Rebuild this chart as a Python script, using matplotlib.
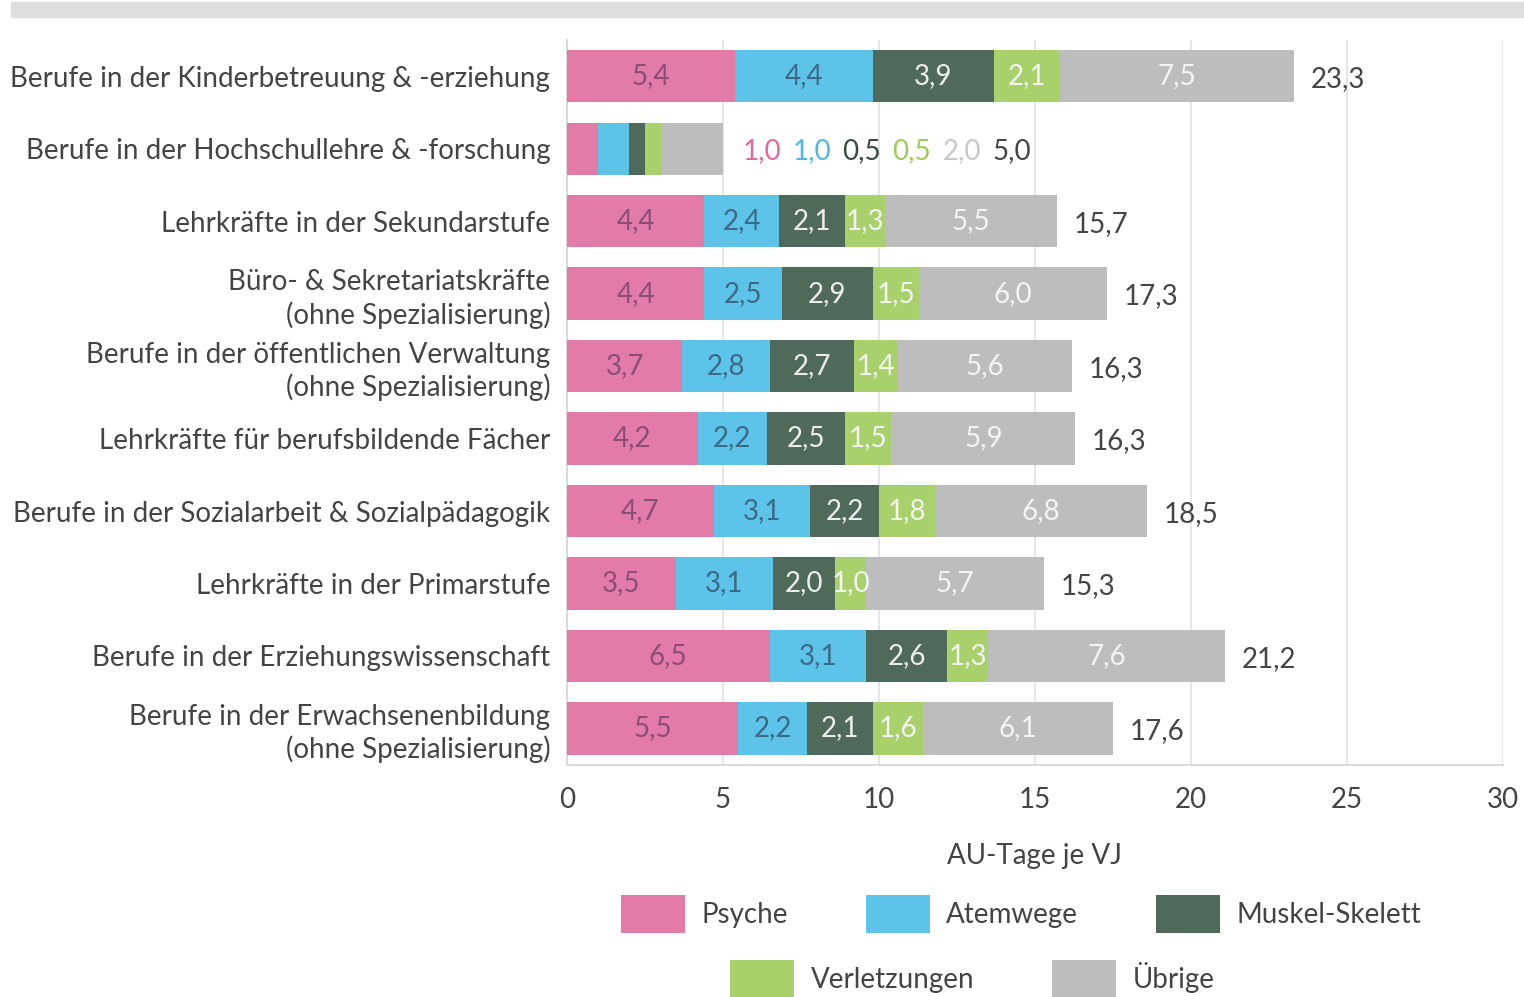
import matplotlib
matplotlib.use("Agg")
import matplotlib.pyplot as plt
from matplotlib.patches import Rectangle

plt.rcParams["font.family"] = ["Lato", "DejaVu Sans"]

# data
berufe = [
    "Berufe in der Kinderbetreuung & -erziehung",
    "Berufe in der Hochschullehre & -forschung",
    "Lehrkräfte in der Sekundarstufe",
    "Büro- & Sekretariatskräfte\n(ohne Spezialisierung)",
    "Berufe in der öffentlichen Verwaltung\n(ohne Spezialisierung)",
    "Lehrkräfte für berufsbildende Fächer",
    "Berufe in der Sozialarbeit & Sozialpädagogik",
    "Lehrkräfte in der Primarstufe",
    "Berufe in der Erziehungswissenschaft",
    "Berufe in der Erwachsenenbildung\n(ohne Spezialisierung)",
]
psyche = [5.4, 1.0, 4.4, 4.4, 3.7, 4.2, 4.7, 3.5, 6.5, 5.5]
atemwege = [4.4, 1.0, 2.4, 2.5, 2.8, 2.2, 3.1, 3.1, 3.1, 2.2]
muskel = [3.9, 0.5, 2.1, 2.9, 2.7, 2.5, 2.2, 2.0, 2.6, 2.1]
verletzungen = [2.1, 0.5, 1.3, 1.5, 1.4, 1.5, 1.8, 1.0, 1.3, 1.6]
uebrige = [7.5, 2.0, 5.5, 6.0, 5.6, 5.9, 6.8, 5.7, 7.6, 6.1]
gesamt = [23.3, 5.0, 15.7, 17.3, 16.3, 16.3, 18.5, 15.3, 21.2, 17.6]

serien = ["Psyche", "Atemwege", "Muskel-Skelett", "Verletzungen", "Übrige"]
werte = [psyche, atemwege, muskel, verletzungen, uebrige]
farben = ["#E37BA9", "#5EC3E8", "#4F6A5B", "#A8D06B", "#BDBDBD"]
textfarben = ["#8A4F70", "#3C6A84", "#EDEDED", "#F4F4F4", "#F4F4F4"]
klein_farben = ["#E0679F", "#4DB8E2", "#3A4A40", "#9CCB5A", "#C8C8C8"]

def fmt(v):
    return f"{v:.1f}".replace(".", ",")

FS = 20

fig = plt.figure(figsize=(15.24, 9.97), dpi=100)
ax = fig.add_axes([0.372, 0.233, 0.614, 0.727])

# top grey band
fig.patches.append(Rectangle((0.007, 0.983), 0.993, 0.015, transform=fig.transFigure,
                             color="#DEDEDE", zorder=0))

y = list(range(len(berufe)))
links = [0.0] * len(berufe)
bars = []
for name, vals, col, tcol in zip(serien, werte, farben, textfarben):
    b = ax.barh(y, vals, left=links, height=0.72, color=col, label=name, zorder=3)
    bars.append(b)
    for i, (v, l) in enumerate(zip(vals, links)):
        if i == 1:
            continue
        ax.text(l + v / 2, i, fmt(v), ha="center", va="center", color=tcol,
                fontsize=FS, zorder=4)
    links = [l + v for l, v in zip(links, vals)]

# totals
for i, t in enumerate(gesamt):
    if i == 1:
        continue
    ax.annotate(fmt(t), (links[i], i), xytext=(12, -2), textcoords="offset points",
                ha="left", va="center", fontsize=FS, color="#444444")

# small bar: values written out beside it
x_off = 14
for v, c in zip([w[1] for w in werte] + [gesamt[1]], klein_farben + ["#444444"]):
    ax.annotate(fmt(v), (links[1], 1), xytext=(x_off, -2), textcoords="offset points",
                ha="left", va="center", fontsize=FS, color=c)
    x_off += 36

ax.set_xlim(0, 30)
ax.set_ylim(9.5, -0.5)
ax.set_yticks(y)
ax.set_yticklabels(berufe, fontsize=FS, color="#444444", linespacing=1.25)
ax.set_xticks(range(0, 31, 5))
ax.tick_params(axis="x", labelsize=FS, colors="#444444", length=0, pad=16)
ax.tick_params(axis="y", length=0, pad=12)
ax.grid(axis="x", color="#E2E2E2", linewidth=1.2, zorder=0)
for s in ["top", "right"]:
    ax.spines[s].set_visible(False)
ax.spines["left"].set_color("#DADADA")
ax.spines["bottom"].set_color("#DADADA")
ax.spines["left"].set_linewidth(1.5)
ax.spines["bottom"].set_linewidth(1.5)
ax.set_xlabel("AU-Tage je VJ", fontsize=FS, color="#444444", labelpad=22)

leg_kw = dict(frameon=False, fontsize=FS, handlelength=2.3, handleheight=1.75,
              handletextpad=0.6, labelcolor="#444444")
l1 = fig.legend(bars[:3], serien[:3], loc="center", ncol=3, columnspacing=2.8,
                bbox_to_anchor=(0.67, 0.083), **leg_kw)
l2 = fig.legend(bars[3:], serien[3:], loc="center", ncol=2, columnspacing=2.8,
                bbox_to_anchor=(0.638, 0.018), **leg_kw)

fig.savefig("out.png", dpi=100)
